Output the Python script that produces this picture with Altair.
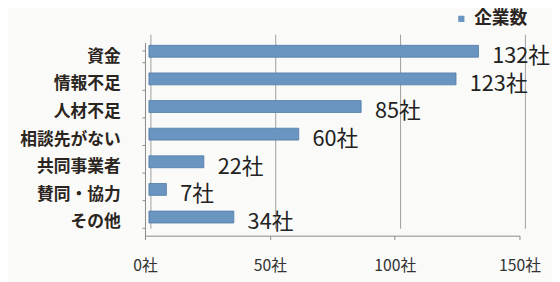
import altair as alt
import pandas as pd

categories = ["資金", "情報不足", "人材不足", "相談先がない", "共同事業者", "賛同・協力", "その他"]
values = [132, 123, 85, 60, 22, 7, 34]
series_name = "企業数"
x_ticks = [0, 50, 100, 150]

df = pd.DataFrame({"cat": categories, "val": values, "series": [series_name] * len(categories)})
df["label"] = df["val"].astype(str) + "社"
grid_df = pd.DataFrame({"t": x_ticks})

FONT = "Noto Sans CJK JP"
ysort = categories

xscale = alt.Scale(domain=[0, 150], nice=False)
yscale = alt.Scale(domain=ysort, paddingInner=0.57, paddingOuter=0.28)

xaxis = alt.Axis(
    values=x_ticks,
    labelExpr="datum.value + '社'",
    title=None,
    grid=False,
    tickSize=4,
    labelPadding=18,
    labelFlush=False,
    labelOverlap=False,
    labelFontSize=16,
    labelFont=FONT,
    labelColor="#333",
    domainColor="#888",
    tickColor="#888",
)
yaxis = alt.Axis(
    title=None,
    tickBand="extent",
    tickSize=3,
    labelPadding=22,
    labelFontSize=17,
    labelFont=FONT,
    labelFontWeight="bold",
    labelColor="#2a2520",
    domainColor="#888",
    tickColor="#888",
)

grid = alt.Chart(grid_df).mark_rule(color="#a0a0a0", strokeWidth=1, xOffset=6).encode(
    x=alt.X("t:Q", scale=xscale, axis=xaxis),
    y=alt.value(-8),
    y2=alt.value(189),
)

bars = alt.Chart(df).mark_bar(xOffset=4, yOffset=-5, stroke="#4f79a6", strokeWidth=0.8).encode(
    x=alt.X("val:Q", scale=xscale, axis=xaxis),
    y=alt.Y("cat:N", sort=ysort, scale=yscale, axis=yaxis),
    color=alt.Color(
        "series:N",
        scale=alt.Scale(domain=[series_name], range=["#6b95c1"]),
        legend=alt.Legend(
            title=None,
            orient="none",
            legendX=312,
            legendY=-33,
            symbolType="square",
            symbolSize=40,
            symbolStrokeWidth=0,
            labelFontSize=18,
            labelFont=FONT,
            labelFontWeight="bold",
            labelColor="#2a2520",
            labelOffset=4,
            labelBaseline="middle",
            labelLimit=0,
            padding=0,
        ),
    ),
)

texts = alt.Chart(df).mark_text(
    align="left", baseline="middle", dx=18, fontSize=22, font=FONT, color="#222"
).encode(
    x=alt.X("val:Q", scale=xscale, axis=xaxis),
    y=alt.Y("cat:N", sort=ysort, scale=yscale, axis=yaxis),
    text="label:N",
)

chart = (
    alt.layer(grid, bars, texts)
    .properties(
        width=380,
        height=196,
        autosize=alt.AutoSizeParams(type="none"),
        padding={"left": 139, "top": 33, "right": 33, "bottom": 45},
        background="#fafaf8",
    )
    .configure_view(stroke=None)
)

chart.save("out.html", embed_options={"renderer": "svg", "actions": False})
